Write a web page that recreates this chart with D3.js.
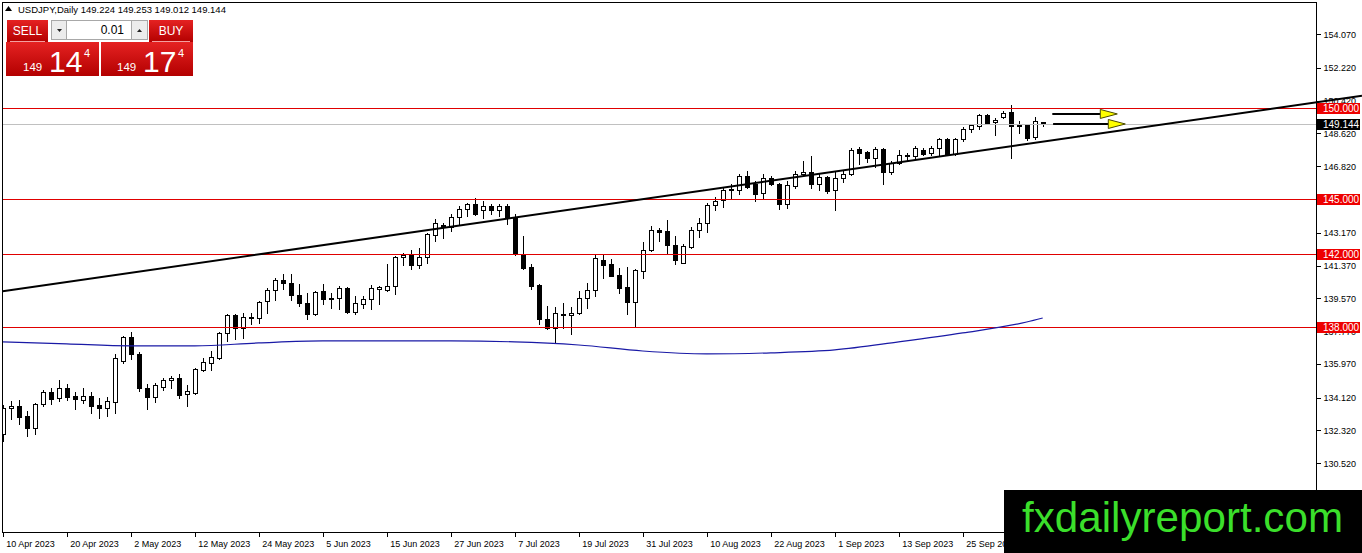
<!DOCTYPE html>
<html>
<head>
<meta charset="utf-8">
<script src="https://cdn.jsdelivr.net/npm/d3@7/dist/d3.min.js"></script>
<style>
body {margin:0; background:#fff; overflow:hidden}
text {font-family:"Liberation Sans", Arial, sans-serif}
</style>
</head>
<body>
<script>
// daily candles, 10 Apr 2023 .. 9 Oct 2023  [open, high, low, close]
var ohlc = [
 [132.14,133.73,131.76,133.56],[133.56,133.95,132.96,133.67],[133.67,134.00,132.69,133.07],[133.12,133.40,132.03,132.47],
 [132.47,133.84,132.14,133.78],[133.78,134.55,133.67,134.44],[134.44,134.66,133.78,134.06],[134.11,135.10,133.95,134.66],
 [134.66,134.88,134.00,134.17],[134.22,134.44,133.51,134.06],[134.00,134.66,133.84,134.22],[134.22,134.44,133.29,133.67],
 [133.73,134.11,133.01,133.56],[133.56,134.17,133.12,133.95],[133.89,136.52,133.29,136.30],[136.14,137.51,136.03,137.45],
 [137.45,137.73,136.25,136.52],[136.52,136.60,134.49,134.66],[134.66,134.88,133.51,134.17],[134.17,134.93,133.89,134.82],
 [134.71,135.21,134.55,135.10],[135.10,135.32,134.66,135.21],[135.21,135.43,134.11,134.28],[134.33,134.82,133.67,134.50],
 [134.39,135.75,134.33,135.70],[135.64,136.30,135.59,136.08],[136.03,136.69,135.64,136.36],[136.30,137.73,136.25,137.67],
 [137.67,138.71,137.23,138.66],[138.66,138.71,137.34,137.95],[137.95,138.77,137.40,138.55],[138.49,138.77,138.16,138.55],
 [138.49,139.42,138.22,139.37],[139.42,140.14,138.77,140.03],[140.03,140.68,139.48,140.58],[140.58,140.90,140.08,140.41],
 [140.41,140.90,139.48,139.75],[139.75,140.36,139.15,139.32],[139.32,139.86,138.44,138.71],[138.71,139.97,138.66,139.92],
 [139.97,140.36,139.26,139.53],[139.59,139.86,139.04,139.53],[139.59,140.25,138.99,140.14],[140.14,140.20,138.77,138.82],
 [138.82,139.70,138.71,139.32],[139.26,139.70,139.04,139.53],[139.53,140.30,138.99,140.14],[140.08,140.25,139.26,140.19],
 [140.03,141.45,139.97,140.25],[140.25,141.89,139.81,141.84],[141.84,142.05,141.40,141.95],[141.95,142.22,141.18,141.40],
 [141.40,142.33,141.23,141.84],[141.84,143.15,141.51,143.10],[143.04,143.92,142.71,143.70],[143.59,143.70,142.88,143.48],
 [143.48,144.19,143.26,144.03],[144.03,144.63,143.64,144.47],[144.47,144.79,144.08,144.74],[144.74,145.07,144.14,144.19],
 [144.41,144.90,143.97,144.63],[144.63,144.74,144.19,144.41],[144.41,144.74,144.08,144.63],[144.63,144.74,143.64,143.97],
 [143.97,144.19,141.97,142.00],[142.00,142.99,141.18,141.23],[141.29,141.45,140.08,140.25],[140.30,140.36,138.16,138.44],
 [138.44,139.15,137.89,137.95],[137.95,139.10,137.18,138.77],[138.66,139.32,137.95,138.71],[138.66,139.10,137.62,138.77],
 [138.77,139.97,138.71,139.59],[139.59,140.41,139.04,140.03],[140.03,141.95,139.70,141.78],[141.67,141.95,140.68,141.40],
 [141.45,141.73,140.79,140.79],[140.85,141.23,139.86,140.14],[140.19,141.29,138.71,139.37],[139.37,141.18,138.00,141.12],
 [141.07,142.66,140.68,142.22],[142.22,143.53,142.16,143.32],[143.32,143.42,142.71,143.21],[143.26,143.86,142.00,142.49],
 [142.49,142.99,141.45,141.67],[141.51,142.55,141.51,142.44],[142.38,143.48,142.33,143.32],[143.32,143.97,142.93,143.70],
 [143.70,144.79,143.21,144.68],[144.68,145.12,144.41,144.90],[144.96,145.62,144.58,145.51],[145.51,145.84,145.07,145.56],
 [145.51,146.38,145.29,146.27],[146.27,146.55,145.62,145.67],[145.84,146.00,144.90,145.29],[145.34,146.38,145.07,146.16],
 [146.16,146.27,145.78,145.84],[145.84,145.89,144.47,144.74],[144.74,146.00,144.52,145.78],[145.73,146.55,145.62,146.38],
 [146.38,147.10,146.27,146.49],[146.49,147.37,145.62,145.84],[145.84,146.38,145.51,146.22],[146.22,146.27,145.34,145.45],
 [145.51,146.55,144.41,146.16],[146.16,146.55,145.95,146.38],[146.38,147.81,146.33,147.70],[147.75,147.86,146.93,147.53],
 [147.59,147.64,147.04,147.26],[147.26,147.86,146.77,147.75],[147.75,147.81,145.84,146.49],[146.49,147.10,146.38,146.99],
 [146.99,147.70,146.93,147.42],[147.37,147.53,147.10,147.42],[147.37,147.92,147.26,147.81],[147.70,147.81,147.42,147.48],
 [147.53,147.92,147.42,147.81],[147.81,148.36,147.37,148.30],[148.30,148.36,147.42,147.48],[147.48,148.36,147.42,148.30],
 [148.30,148.96,148.19,148.85],[148.85,149.12,148.68,149.07],[149.01,149.67,148.85,149.62],[149.62,149.67,149.12,149.18],
 [149.23,149.45,148.52,149.34],[149.51,149.84,149.45,149.73],[149.78,150.16,147.26,149.01],[149.12,149.29,148.63,149.01],
 [149.07,149.12,148.25,148.36],[148.41,149.51,148.30,149.30],[149.224,149.253,149.012,149.144]
]

var dateLabels = ["10 Apr 2023","20 Apr 2023","2 May 2023","12 May 2023","24 May 2023","5 Jun 2023","15 Jun 2023",
  "27 Jun 2023","7 Jul 2023","19 Jul 2023","31 Jul 2023","10 Aug 2023","22 Aug 2023","1 Sep 2023","13 Sep 2023","25 Sep 2023"]
var labelBars = [0,8,16,24,32,40,48,56,64,72,80,88,96,104,112,120]

// 145.020 sits under the 145.000 tag, so it is left out
var priceTicks = [154.07,152.22,150.42,148.62,146.82,143.17,141.37,139.57,137.77,135.97,134.12,132.32,130.52]
var levels = [150, 145, 142, 138]
var bid = 149.144

// moving average (blue line), read every 8 bars
var maBars   = [0,8,16,24,32,40,48,56,64,72,80,88,96,104,112,120,128,130]
var maValues = [137.18,137.07,136.96,136.96,137.12,137.23,137.23,137.23,137.18,137.01,136.68,136.52,136.58,136.74,137.18,137.67,138.27,138.49]

// trend line anchors
var trendBars = [0, 160]
var trendPrices = [139.96, 150.06]

// the two yellow arrows
var arrowFrom = [131.2, 131.3]
var arrowTo = [137.2, 138.2]
var arrowPrice = [149.69, 149.14]

var screen = {width: 1362, height: 553}
var frame = {left: 2, top: 2, right: 1316, bottom: 532}

var xScale = d3.scaleLinear()
    .domain([0, 164])
    .range([2.7, 2.7 + 8*164])

var yScale = d3.scaleLinear()
    .domain([150, 130])
    .range([108.3, 108.3 + 20*18.22])

var svg = d3.select("body")
    .append("svg")
    .attr("width", screen.width)
    .attr("height", screen.height)

svg.append("clipPath")
    .attr("id", "plot")
    .append("rect")
    .attr("x", frame.left)
    .attr("y", frame.top)
    .attr("width", frame.right - frame.left)
    .attr("height", frame.bottom - frame.top)

var plot = svg.append("g").attr("clip-path", "url(#plot)")

//candles
var px = function(i) { return Math.round(xScale(i)) }
var py = function(p) { return Math.round(yScale(p)) }

var cg = plot.append("g").attr("shape-rendering", "crispEdges")

cg.selectAll("line")
    .data(ohlc)
    .enter()
    .append("line")
    .attr("x1", function(d,i) { return px(i) + 0.5 })
    .attr("x2", function(d,i) { return px(i) + 0.5 })
    .attr("y1", function(d) { return py(d[1]) })
    .attr("y2", function(d) { return py(d[2]) + 1 })
    .attr("stroke", "black")

cg.selectAll("rect")
    .data(ohlc)
    .enter()
    .append("rect")
    .attr("x", function(d,i) { return px(i) - 1.5 })
    .attr("y", function(d) { return py(Math.max(d[0], d[3])) + 0.5 })
    .attr("width", 4)
    .attr("height", function(d) { return Math.max(py(Math.min(d[0], d[3])) - py(Math.max(d[0], d[3])), 0) })
    .attr("fill", function(d) { return d[3] >= d[0] ? "white" : "black" })
    .attr("stroke", "black")

// bid line + red levels
plot.append("line")
    .attr("x1", frame.left).attr("x2", frame.right)
    .attr("y1", py(bid) + 0.5).attr("y2", py(bid) + 0.5)
    .attr("stroke", "#c0c0c0")
    .attr("shape-rendering", "crispEdges")

plot.selectAll(".level")
    .data(levels)
    .enter()
    .append("line")
    .attr("class", "level")
    .attr("x1", frame.left).attr("x2", frame.right)
    .attr("y1", function(d) { return py(d) + 0.5 })
    .attr("y2", function(d) { return py(d) + 0.5 })
    .attr("stroke", "#e00000")
    .attr("shape-rendering", "crispEdges")

// MA
var maLine = d3.line()
    .x(function(d,i) { return xScale(maBars[i]) })
    .y(function(d) { return yScale(d) })
    .curve(d3.curveMonotoneX)

plot.append("path")
    .attr("d", maLine(maValues))
    .attr("fill", "none")
    .attr("stroke", "#1a1aa6")
    .attr("stroke-width", 1.2)

// trend line, runs to the window edge
var slope = (trendPrices[1] - trendPrices[0]) / (trendBars[1] - trendBars[0])
var endBar = xScale.invert(screen.width)
svg.append("line")
    .attr("x1", xScale(trendBars[0]))
    .attr("y1", yScale(trendPrices[0]))
    .attr("x2", screen.width)
    .attr("y2", yScale(trendPrices[0] + slope*(endBar - trendBars[0])))
    .attr("stroke", "black")
    .attr("stroke-width", 2)

// arrows
arrowPrice.forEach(function(p, i) {
    var y = yScale(p)
    var x0 = xScale(arrowFrom[i]), x1 = xScale(arrowTo[i])
    svg.append("line")
        .attr("x1", x0).attr("x2", x1)
        .attr("y1", y).attr("y2", y)
        .attr("stroke", "black")
        .attr("stroke-width", 2)
    svg.append("path")
        .attr("d", "M" + x1 + "," + (y-4.5) + "L" + (x1+17) + "," + y + "L" + x1 + "," + (y+4.5) + "Z")
        .attr("fill", "#ffff00")
        .attr("stroke", "#4a4a00")
        .attr("stroke-width", 1)
})

// frame
svg.append("rect")
    .attr("x", frame.left + 0.5)
    .attr("y", frame.top + 0.5)
    .attr("width", frame.right - frame.left)
    .attr("height", frame.bottom - frame.top)
    .attr("fill", "none")
    .attr("stroke", "black")
    .attr("shape-rendering", "crispEdges")

//axis
var yAxis = d3.axisRight(yScale)
    .tickValues(priceTicks)
    .tickSize(4)
    .tickFormat(d3.format(".3f"))

svg.append("g")
    .attr("id", "yAxis")
    .attr("transform", "translate(" + (frame.right + 0.5) + ",0)")
    .call(yAxis)

var xAxis = d3.axisBottom(xScale)
    .tickValues(labelBars)
    .tickSize(4)
    .tickFormat(function(d,i) { return dateLabels[i] })

svg.append("g")
    .attr("id", "xAxis")
    .attr("transform", "translate(0," + (frame.bottom + 0.5) + ")")
    .call(xAxis)

svg.selectAll("#xAxis text")
    .attr("text-anchor", "start")
    .attr("x", 3)
    .attr("y", 8)

svg.selectAll(".domain").remove()
svg.selectAll(".tick line").attr("stroke", "black").attr("shape-rendering", "crispEdges")
svg.selectAll(".tick text").style("font-family", "Liberation Sans, Arial, sans-serif").style("font-size", "9px").attr("fill", "black")

// price boxes on the axis
var tags = levels.map(function(d) { return {p: d, bg: "#ee0000"} })
tags.push({p: bid, bg: "black"})

var tg = svg.selectAll(".tag")
    .data(tags)
    .enter()
    .append("g")
    .attr("class", "tag")
    .attr("transform", function(d) { return "translate(" + (frame.right + 1) + "," + py(d.p) + ")" })

tg.append("rect")
    .attr("x", 0).attr("y", -5)
    .attr("width", 43).attr("height", 11)
    .attr("fill", function(d) { return d.bg })

tg.append("text")
    .attr("x", 6).attr("y", 4)
    .style("font-size", "10px")
    .attr("fill", "white")
    .text(function(d) { return d.p.toFixed(3) })

// header
svg.append("path").attr("d", "M5,11L8.5,6L12,11Z").attr("fill", "black")
svg.append("text")
    .attr("x", 18).attr("y", 13)
    .style("font-size", "9.5px")
    .text("USDJPY,Daily  149.224 149.253 149.012 149.144")

// one click trading panel
var grad = svg.append("defs").append("linearGradient")
    .attr("id", "red").attr("x1", 0).attr("x2", 0).attr("y1", 0).attr("y2", 1)
grad.append("stop").attr("offset", "0%").attr("stop-color", "#e52222")
grad.append("stop").attr("offset", "100%").attr("stop-color", "#b30000")

var panel = svg.append("g")
panel.append("rect").attr("x", 7).attr("y", 20).attr("width", 41).attr("height", 22).attr("fill", "url(#red)")
panel.append("rect").attr("x", 149).attr("y", 20).attr("width", 44).attr("height", 22).attr("fill", "url(#red)")
panel.append("rect").attr("x", 6).attr("y", 42).attr("width", 93).attr("height", 34).attr("fill", "url(#red)")
panel.append("rect").attr("x", 101).attr("y", 42).attr("width", 92).attr("height", 34).attr("fill", "url(#red)")
panel.append("line").attr("x1", 10).attr("x2", 45).attr("y1", 41.5).attr("y2", 41.5).attr("stroke", "#f3a0a0")
panel.append("line").attr("x1", 152).attr("x2", 190).attr("y1", 41.5).attr("y2", 41.5).attr("stroke", "#f3a0a0")

panel.append("text").attr("x", 27.5).attr("y", 35).attr("text-anchor", "middle")
    .style("font-size", "12px").attr("fill", "white").text("SELL")
panel.append("text").attr("x", 171).attr("y", 35).attr("text-anchor", "middle")
    .style("font-size", "12px").attr("fill", "white").text("BUY")

panel.append("rect").attr("x", 51.5).attr("y", 20.5).attr("width", 15).attr("height", 19)
    .attr("fill", "#ececec").attr("stroke", "#a8a8a8")
panel.append("rect").attr("x", 66.5).attr("y", 20.5).attr("width", 65).attr("height", 19)
    .attr("fill", "white").attr("stroke", "#a8a8a8")
panel.append("rect").attr("x", 131.5).attr("y", 20.5).attr("width", 16).attr("height", 19)
    .attr("fill", "#ececec").attr("stroke", "#a8a8a8")
panel.append("path").attr("d", "M57,29L62,29L59.5,32Z").attr("fill", "#222")
panel.append("path").attr("d", "M137,32L142,32L139.5,29Z").attr("fill", "#222")
panel.append("text").attr("x", 124).attr("y", 34).attr("text-anchor", "end")
    .style("font-size", "12px").text("0.01")

var quotes = [{x: 23, big: "14"}, {x: 117, big: "17"}]
quotes.forEach(function(q) {
    panel.append("text").attr("x", q.x).attr("y", 71).style("font-size", "11.5px").attr("fill", "white").text("149")
    panel.append("text").attr("x", q.x + 26).attr("y", 72).style("font-size", "30px").attr("fill", "white").text(q.big)
    panel.append("text").attr("x", q.x + 61).attr("y", 57).style("font-size", "11px").attr("fill", "white").text("4")
})

// watermark
svg.append("rect")
    .attr("x", 1004).attr("y", 490)
    .attr("width", 358).attr("height", 63)
    .attr("fill", "black")
svg.append("text")
    .attr("x", 1022).attr("y", 532)
    .attr("textLength", 321)
    .attr("lengthAdjust", "spacingAndGlyphs")
    .style("font-size", "42px")
    .attr("fill", "#3bdf2b")
    .text("fxdailyreport.com")
</script>
</body>
</html>
